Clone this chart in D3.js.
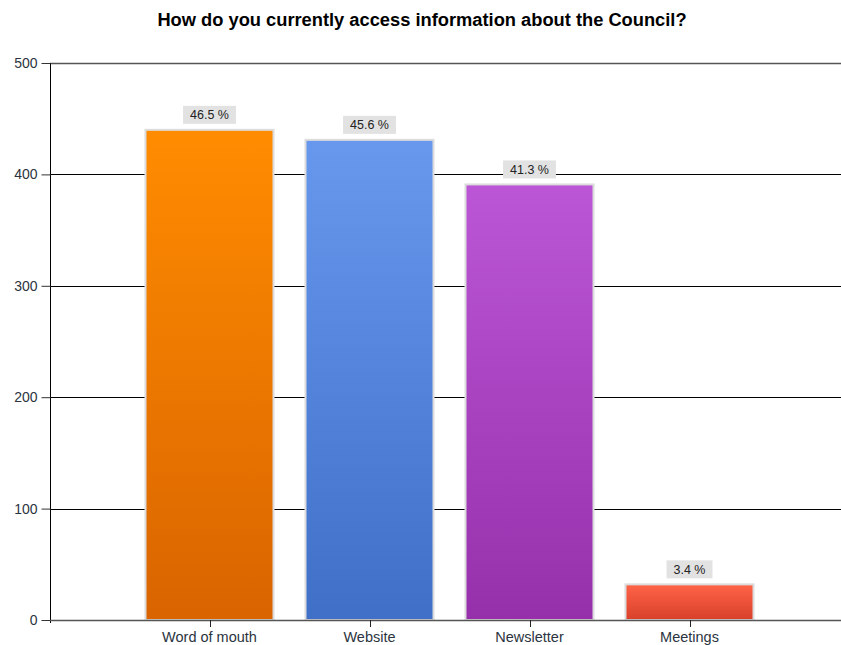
<!DOCTYPE html>
<html>
<head>
<meta charset="utf-8">
<script src="https://cdn.jsdelivr.net/npm/d3@7"></script>
<style>
  html, body { margin: 0; padding: 0; background: #fff; }
  svg { display: block; font-family: Arial, "Liberation Sans", sans-serif; }
</style>
</head>
<body>
<svg id="chart" width="841" height="645"></svg>
<script>
// Survey responses: how people access information about the Council
const categories = ["Word of mouth", "Website", "Newsletter", "Meetings"];
const counts = [440, 431, 391, 32];
const percentLabels = ["46.5 %", "45.6 %", "41.3 %", "3.4 %"];
const yTicks = [0, 100, 200, 300, 400, 500];
const topColors = ["#ff8c00", "#6898ee", "#bb56d6", "#ff6448"];
const bottomColors = ["#d96400", "#3f6fc6", "#9630aa", "#d8402a"];

const svg = d3.select("#chart");
const plotLeft = 50, plotRight = 841, plotTop = 63, plotBottom = 620;

const y = d3.scaleLinear().domain([0, 500]).range([plotBottom, plotTop]);
// categories sit at positions 1..4 along a 0..5 axis
const x = d3.scaleLinear().domain([0, 5]).range([plotLeft - 0.5, plotLeft + 799.5]);
const barW = 128;

// title
svg.append("text")
  .attr("x", 422).attr("y", 26)
  .attr("text-anchor", "middle")
  .attr("font-size", "18.3px").attr("font-weight", "bold")
  .attr("fill", "#000")
  .text("How do you currently access information about the Council?");

// gradients
const defs = svg.append("defs");
categories.forEach((c, i) => {
  const g = defs.append("linearGradient")
    .attr("id", "grad" + i)
    .attr("x1", 0).attr("y1", 0).attr("x2", 0).attr("y2", 1);
  g.append("stop").attr("offset", "0%").attr("stop-color", topColors[i]);
  g.append("stop").attr("offset", "100%").attr("stop-color", bottomColors[i]);
});

// horizontal gridlines
svg.append("g")
  .selectAll("line")
  .data(yTicks.filter(t => t > 0))
  .join("line")
  .attr("x1", plotLeft).attr("x2", plotRight)
  .attr("y1", d => Math.round(y(d)) + 0.5).attr("y2", d => Math.round(y(d)) + 0.5)
  .attr("stroke", d => d === 500 ? "#555" : "#000")
  .attr("stroke-width", d => d === 500 ? 1.5 : 1);

// y axis
const yAxis = d3.axisLeft(y).tickValues(yTicks).tickSize(9).tickPadding(4).tickSizeOuter(0);
const yg = svg.append("g").attr("transform", `translate(${plotLeft + 0.5},0)`).call(yAxis);
yg.select(".domain").attr("stroke", "#000").attr("d", `M0,${plotTop}V${plotBottom + 3}`);
yg.selectAll(".tick line").attr("stroke", "#333");
yg.selectAll(".tick text")
  .attr("font-size", "14px").attr("fill", "#2b3440")
  .attr("font-family", "Arial, 'Liberation Sans', sans-serif");

// bars
const bars = svg.append("g");
bars.selectAll("rect")
  .data(counts)
  .join("rect")
  .attr("x", (d, i) => x(i + 1) - barW / 2)
  .attr("y", d => y(d))
  .attr("width", barW)
  .attr("height", d => plotBottom - y(d))
  .attr("fill", (d, i) => `url(#grad${i})`)
  .attr("stroke", "#dcdcdc")
  .attr("stroke-width", 2);

// x axis line and ticks
svg.append("line")
  .attr("x1", plotLeft).attr("x2", plotRight)
  .attr("y1", plotBottom + 0.5).attr("y2", plotBottom + 0.5)
  .attr("stroke", "#555").attr("stroke-width", 1.5);

const xg = svg.append("g");
xg.selectAll("line")
  .data(categories)
  .join("line")
  .attr("x1", (d, i) => Math.round(x(i + 1)) + 0.5)
  .attr("x2", (d, i) => Math.round(x(i + 1)) + 0.5)
  .attr("y1", plotBottom).attr("y2", plotBottom + 7)
  .attr("stroke", "#222");
xg.selectAll("text")
  .data(categories)
  .join("text")
  .attr("x", (d, i) => x(i + 1))
  .attr("y", plotBottom + 22)
  .attr("text-anchor", "middle")
  .attr("font-size", "14.5px").attr("fill", "#2b3440")
  .text(d => d);

// value labels
const lbl = svg.append("g");
counts.forEach((d, i) => {
  const cx = x(i + 1);
  const by = y(d) - 6;
  const t = lbl.append("text")
    .attr("x", cx).attr("y", by - 4.5)
    .attr("text-anchor", "middle")
    .attr("font-size", "12.5px").attr("fill", "#222")
    .text(percentLabels[i]);
  const bb = t.node().getBBox();
  lbl.insert("rect", "text")
    .attr("x", cx - (bb.width + 14) / 2)
    .attr("y", by - 18)
    .attr("width", bb.width + 14)
    .attr("height", 18)
    .attr("fill", "#e2e2e2");
});
</script>
</body>
</html>
